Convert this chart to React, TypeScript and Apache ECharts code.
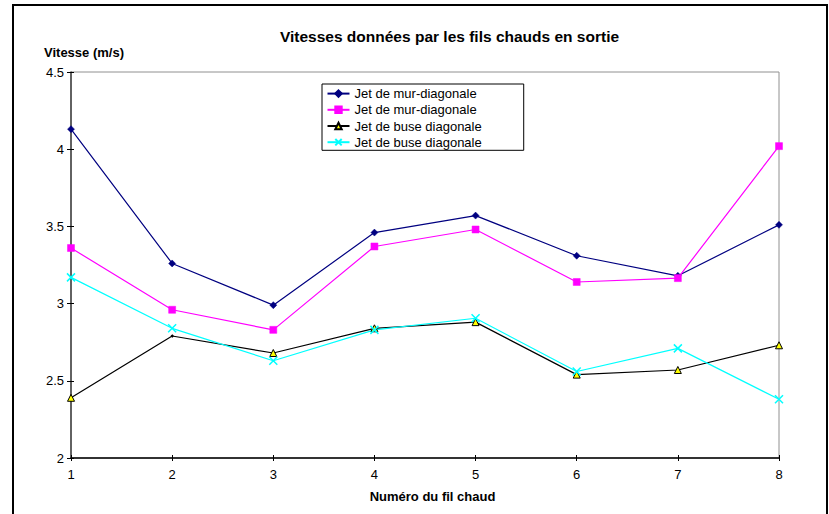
import React, { useEffect, useRef } from 'react';
import * as echarts from 'echarts';

const categories = ['1', '2', '3', '4', '5', '6', '7', '8'];
const murDiagonaleA = [4.13, 3.26, 2.99, 3.46, 3.57, 3.31, 3.18, 3.51];
const murDiagonaleB = [3.36, 2.96, 2.83, 3.37, 3.48, 3.14, 3.165, 4.02];
const buseDiagonaleA = [2.39, 2.79, 2.68, 2.84, 2.88, 2.54, 2.57, 2.73];
const buseDiagonaleB = [3.17, 2.84, 2.63, 2.83, 2.905, 2.56, 2.71, 2.38];
const seriesKeys = ['murA', 'murB', 'buseA', 'buseB'];
const seriesLabels = ['Jet de mur-diagonale', 'Jet de mur-diagonale', 'Jet de buse diagonale', 'Jet de buse diagonale'];
const yTicks = { min: 2, max: 4.5, interval: 0.5 };

const titleText = 'Vitesses données par les fils chauds en sortie';
const yName = 'Vitesse (m/s)';
const xName = 'Numéro du fil chaud';

const FONT = '"Liberation Sans", Arial, Helvetica, sans-serif';

export default function App() {
  const ref = useRef<HTMLDivElement>(null);
  useEffect(() => {
    if (!ref.current) return;
    const chart = echarts.init(ref.current, null, { renderer: 'svg' });
    const labelMap: Record<string, string> = {};
    seriesKeys.forEach((k, i) => (labelMap[k] = seriesLabels[i]));

    const xBase = {
      type: 'category' as const,
      data: categories,
      boundaryGap: false,
      position: 'bottom' as const,
    };
    const yBase = {
      type: 'value' as const,
      min: yTicks.min,
      max: yTicks.max,
      interval: yTicks.interval,
      position: 'left' as const,
      splitLine: { show: false },
    };

    chart.setOption({
      animation: false,
      backgroundColor: '#ffffff',
      textStyle: { fontFamily: FONT },
      grid: {
        left: 71,
        top: 72,
        width: 708,
        height: 386,
        show: true,
        borderColor: '#909090',
        borderWidth: 1,
        backgroundColor: 'transparent',
      },
      legend: {
        orient: 'vertical',
        left: 322,
        top: 84,
        data: seriesKeys,
        formatter: (n: string) => labelMap[n] || n,
        itemWidth: 22,
        itemHeight: 8,
        itemGap: 0,
        padding: [1.5, 42, 0, 4.5],
        borderColor: '#000000',
        borderWidth: 1,
        backgroundColor: '#ffffff',
        textStyle: { fontSize: 13, color: '#000', fontFamily: FONT, lineHeight: 16.2 },
        selectedMode: false,
      },
      xAxis: [
        {
          ...xBase,
          axisLine: { show: true, lineStyle: { color: '#000000', width: 1.5 } },
          axisTick: { show: true, inside: false, length: 3, lineStyle: { color: '#000', width: 1 } },
          axisLabel: { color: '#000', fontSize: 13, margin: 10, fontFamily: FONT },
        },
        {
          ...xBase,
          axisLine: { show: false },
          axisTick: { show: true, inside: true, length: 3, lineStyle: { color: '#000', width: 1 } },
          axisLabel: { show: false },
        },
      ],
      yAxis: [
        {
          ...yBase,
          axisLine: { show: true, lineStyle: { color: '#404040', width: 1.5 } },
          axisTick: { show: true, inside: false, length: 4, lineStyle: { color: '#000', width: 1 } },
          axisLabel: { color: '#000', fontSize: 13, margin: 7, fontFamily: FONT },
        },
        {
          ...yBase,
          axisLine: { show: false },
          axisTick: { show: true, inside: true, length: 3, lineStyle: { color: '#000', width: 1 } },
          axisLabel: { show: false },
        },
      ],
      series: [
        {
          name: seriesKeys[0],
          type: 'line',
          data: murDiagonaleA,
          symbol: 'diamond',
          symbolSize: 7,
          itemStyle: { color: '#000080', borderColor: '#000080', borderWidth: 0.5 },
          lineStyle: { color: '#000080', width: 1.2 },
        },
        {
          name: seriesKeys[1],
          type: 'line',
          data: murDiagonaleB,
          symbol: 'rect',
          symbolSize: 7,
          itemStyle: { color: '#FF00FF', borderColor: '#FF00FF', borderWidth: 0.5 },
          lineStyle: { color: '#FF00FF', width: 1.2 },
        },
        {
          name: seriesKeys[2],
          type: 'line',
          data: buseDiagonaleA.map((v, i) =>
            i === 1 ? { value: v, symbol: 'circle', symbolSize: 2, itemStyle: { color: '#000000' } } : v
          ),
          symbol: 'triangle',
          symbolSize: 7,
          itemStyle: { color: '#FFFF00', borderColor: '#000000', borderWidth: 1 },
          lineStyle: { color: '#000000', width: 1.2 },
        },
        {
          name: seriesKeys[3],
          type: 'line',
          data: buseDiagonaleB,
          symbol: 'path://M0,0L10,10M10,0L0,10',
          symbolSize: 8,
          itemStyle: { color: '#00FFFF', borderColor: '#00FFFF', borderWidth: 1.5 },
          lineStyle: { color: '#00FFFF', width: 1.2 },
        },
      ],
      graphic: [
        {
          type: 'rect',
          shape: { x: 13, y: 5, width: 814, height: 520 },
          style: { fill: 'none', stroke: '#000000', lineWidth: 2 },
          silent: true,
          z: -10,
        },
        {
          type: 'text',
          x: 449.5,
          y: 36,
          style: {
            text: titleText,
            font: `bold 15.5px ${FONT}`,
            fill: '#000',
            textAlign: 'center',
            textVerticalAlign: 'middle',
          },
        },
        {
          type: 'text',
          x: 44,
          y: 52,
          style: {
            text: yName,
            font: `bold 13px ${FONT}`,
            fill: '#000',
            textAlign: 'left',
            textVerticalAlign: 'middle',
          },
        },
        {
          type: 'text',
          x: 432.5,
          y: 496,
          style: {
            text: xName,
            font: `bold 13px ${FONT}`,
            fill: '#000',
            textAlign: 'center',
            textVerticalAlign: 'middle',
          },
        },
      ],
    });
    return () => chart.dispose();
  }, []);
  return <div ref={ref} style={{ position: 'fixed', left: 0, top: 0, width: 829, height: 514, background: '#fff' }} />;
}
